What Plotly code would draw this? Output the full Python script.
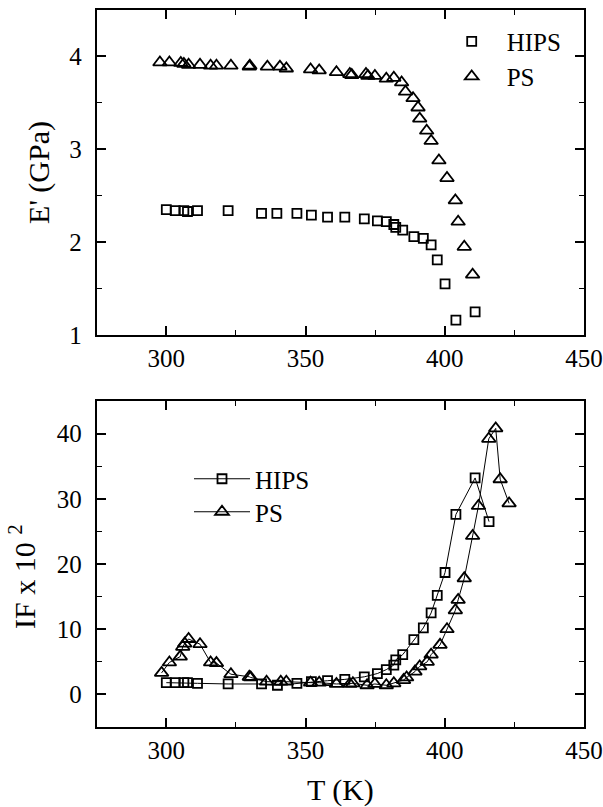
import plotly.graph_objects as go

# ---- Top panel: storage modulus E' (GPa) ----
T_ps_top = [297.7, 301.1, 305.2, 306.3, 308.0, 312.1, 315.9, 318.0, 323.2, 329.8, 330.0,
            336.3, 340.8, 343.1, 351.8, 354.9, 361.1, 365.9, 366.6, 371.7, 372.4, 374.9,
            379.0, 381.7, 384.5, 385.9, 388.6, 390.4, 391.0, 393.5, 395.1, 397.9, 400.8,
            403.8, 404.8, 407.0, 410.0]
E_ps = [3.935, 3.935, 3.93, 3.92, 3.91, 3.91, 3.90, 3.90, 3.90, 3.89, 3.90,
        3.89, 3.89, 3.87, 3.86, 3.85, 3.83, 3.81, 3.80, 3.81, 3.79, 3.79,
        3.76, 3.77, 3.72, 3.62, 3.55, 3.45, 3.33, 3.20, 3.09, 2.88, 2.69,
        2.45, 2.22, 1.95, 1.65]

T_hips_top = [300.0, 303.2, 306.3, 307.6, 311.2, 322.2, 334.2, 339.7, 346.9, 352.1, 357.9,
              364.1, 371.1, 375.8, 379.0, 381.7, 382.4, 384.9, 388.9, 392.3, 395.1, 397.3,
              400.1, 404.0, 410.9]
E_hips = [2.35, 2.34, 2.34, 2.33, 2.34, 2.34, 2.31, 2.31, 2.31, 2.29, 2.27,
          2.27, 2.25, 2.23, 2.22, 2.19, 2.16, 2.13, 2.06, 2.04, 1.97, 1.81,
          1.55, 1.16, 1.25]

# ---- Bottom panel: internal friction IF x 10^2 ----
T_ps_bot = [298.3, 301.1, 305.0, 305.9, 306.6, 308.0, 312.1, 315.9, 318.0, 323.2, 329.8,
            330.3, 336.0, 341.1, 343.1, 351.8, 354.9, 361.1, 365.9, 367.0, 372.1, 374.9,
            379.0, 381.7, 385.2, 386.3, 389.3, 391.0, 393.7, 395.1, 398.3, 400.8, 403.8,
            404.8, 407.0, 410.0, 412.1, 415.8, 418.3, 419.9, 423.1]
IF_ps = [3.3, 4.9, 5.8, 7.3, 7.8, 8.5, 7.7, 4.9, 4.8, 3.1, 2.7,
         2.6, 1.95, 1.95, 1.95, 1.8, 1.8, 1.6, 1.6, 1.7, 1.4, 1.6,
         1.4, 1.7, 2.2, 2.6, 3.5, 4.3, 5.0, 6.1, 7.6, 10.0, 12.9,
         14.5, 17.8, 24.3, 28.9, 39.2, 40.8, 33.0, 29.3]

T_hips_bot = [300.0, 303.2, 306.3, 307.6, 311.2, 322.2, 334.2, 339.9, 346.9, 352.1, 357.9,
              364.1, 371.1, 375.8, 379.0, 381.7, 382.4, 384.9, 388.9, 392.3, 395.1, 397.3,
              400.1, 404.0, 410.9, 415.9]
IF_hips = [1.8, 1.8, 1.8, 1.8, 1.7, 1.6, 1.6, 1.4, 1.7, 1.95, 2.1,
           2.3, 2.7, 3.2, 3.8, 4.5, 5.3, 6.1, 8.4, 10.2, 12.5, 15.2,
           18.7, 27.6, 33.2, 26.5]

x_ticks = [300, 350, 400, 450]
top_y_ticks = [1, 2, 3, 4]
bot_y_ticks = [0, 10, 20, 30, 40]

FONT = "Liberation Serif"
BLACK = "black"
W, H = 603, 807

sq = dict(symbol="square-open", size=9, color=BLACK, line=dict(width=1.8, color=BLACK))
tri = dict(symbol="triangle-up-open", size=12, color=BLACK, line=dict(width=1.8, color=BLACK))

fig = go.Figure()
fig.add_trace(go.Scatter(x=T_hips_top, y=E_hips, mode="markers", marker=sq, name="HIPS",
                         xaxis="x", yaxis="y", legend="legend"))
fig.add_trace(go.Scatter(x=T_ps_top, y=E_ps, mode="markers", marker=tri, name="PS",
                         xaxis="x", yaxis="y", legend="legend3"))
fig.add_trace(go.Scatter(x=T_hips_bot, y=IF_hips, mode="lines+markers", marker=sq,
                         line=dict(color=BLACK, width=1), name="HIPS",
                         xaxis="x2", yaxis="y2", legend="legend2"))
fig.add_trace(go.Scatter(x=T_ps_bot, y=IF_ps, mode="lines+markers", marker=tri,
                         line=dict(color=BLACK, width=1), name="PS",
                         xaxis="x2", yaxis="y2", legend="legend4"))

xd = [96.7 / W, 584 / W]
top_dom = [1 - 335 / H, 1 - 10 / H]
bot_dom = [1 - 727 / H, 1 - 401 / H]

axis_common = dict(
    showline=True, linewidth=1.8, linecolor=BLACK, mirror="allticks",
    ticks="inside", ticklen=9, tickwidth=1.5, tickcolor=BLACK,
    showgrid=False, zeroline=False, automargin=False,
    tickfont=dict(family=FONT, size=25, color=BLACK),
)
minor_x = dict(dtick=25, tick0=275, ticks="inside", ticklen=5, tickwidth=1.3, tickcolor=BLACK)


def leg(xpx, ypx, iw):
    return dict(x=xpx / W, y=1 - ypx / H, xanchor="left", yanchor="middle",
                font=dict(family=FONT, size=25, color=BLACK), bgcolor="rgba(0,0,0,0)",
                itemwidth=iw, borderwidth=0)


fig.update_layout(
    width=W, height=H,
    margin=dict(l=0, r=0, t=0, b=0),
    paper_bgcolor="white", plot_bgcolor="white",
    font=dict(family=FONT, color=BLACK),
    showlegend=True,
    xaxis=dict(domain=xd, anchor="y", range=[275, 450], tickvals=x_ticks,
               minor=minor_x, ticklabelstandoff=0, **axis_common),
    yaxis=dict(domain=top_dom, anchor="x", range=[1, 4.5], tickvals=top_y_ticks,
               minor=dict(dtick=0.5, tick0=1, ticks="inside", ticklen=5, tickwidth=1.3, tickcolor=BLACK),
               ticklabelstandoff=8,
               title=dict(text="E' (GPa)", font=dict(family=FONT, size=30, color=BLACK), standoff=11),
               **axis_common),
    xaxis2=dict(domain=xd, anchor="y2", range=[275, 450], tickvals=x_ticks,
                minor=minor_x, ticklabelstandoff=0,
                title=dict(text="T (K)", font=dict(family=FONT, size=30, color=BLACK), standoff=18),
                **axis_common),
    yaxis2=dict(domain=bot_dom, anchor="x2", range=[-5, 45], tickvals=bot_y_ticks,
                minor=dict(dtick=5, tick0=-5, ticks="inside", ticklen=5, tickwidth=1.3, tickcolor=BLACK),
                ticklabelstandoff=8,
                **axis_common),
    annotations=[dict(text="IF x 10 <sup>2</sup>", textangle=-90, xref="paper", yref="paper",
                      x=22 / W, y=1 - 577 / H, xanchor="center", yanchor="middle",
                      showarrow=False, font=dict(family=FONT, size=30, color=BLACK))],
    legend=leg(436.7, 41.7, 60),
    legend3=leg(436.7, 76.7, 60),
    legend2=leg(189, 479, 56),
    legend4=leg(189, 512, 56),
)

fig.write_html("out.html", config={"displayModeBar": False},
               post_script="document.body.style.margin='0';document.body.style.overflow='hidden';")
